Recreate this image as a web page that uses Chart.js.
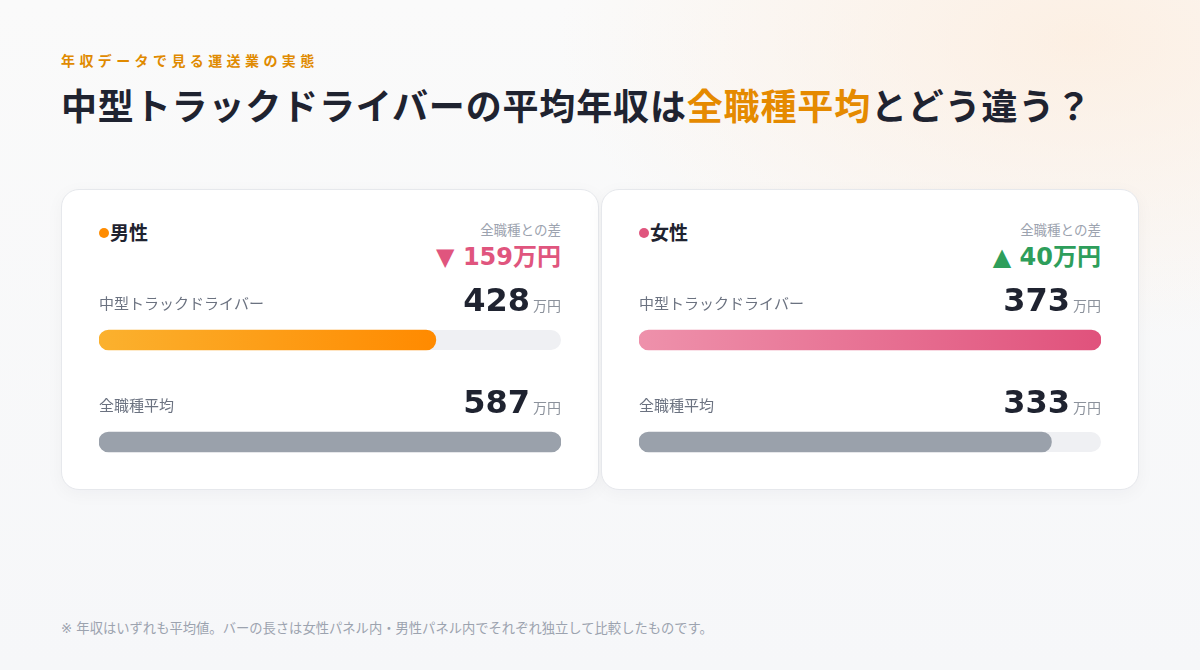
<!DOCTYPE html>
<html lang="ja">
<head>
  <meta charset="UTF-8">
  <title>中型トラックドライバーの平均年収</title>
  <script src="https://cdn.jsdelivr.net/npm/chart.js"></script>
  <style>
    html, body { margin: 0; padding: 0; }
    body {
      width: 1200px; height: 670px; position: relative; overflow: hidden;
      font-family: "DejaVu Sans", "Noto Sans CJK JP", sans-serif;
      background:
        radial-gradient(520px 300px at 1080px 40px, rgba(253, 236, 220, 0.75), rgba(253, 236, 220, 0) 100%),
        linear-gradient(#fafafa, #f6f7f9);
    }
    .kicker {
      position: absolute; left: 61px; top: 50px;
      font-size: 14px; font-weight: bold; color: #e08a00; letter-spacing: 4.4px;
    }
    .title {
      position: absolute; left: 61px; top: 78px;
      font-size: 36px; font-weight: bold; color: #1f2330; letter-spacing: 0.85px; white-space: nowrap;
    }
    .title span { color: #e58a00; }
    .card {
      position: absolute; top: 189px; width: 536px; height: 299px;
      background: #fff; border: 1px solid #e6e8ec; border-radius: 18px;
      box-shadow: 0 4px 18px rgba(15, 23, 42, 0.04);
    }
    .name {
      position: absolute; left: 37px; top: 28px;
      font-size: 19px; font-weight: bold; color: #1f2330;
    }
    .name i {
      display: inline-block; width: 10px; height: 10px; border-radius: 50%;
      vertical-align: 2px; margin-right: 1px;
    }
    .diffcap {
      position: absolute; right: 37px; top: 29px;
      font-size: 13.5px; color: #9ca3af;
    }
    .diff {
      position: absolute; right: 37px; top: 47px;
      font-size: 24px; font-weight: bold; white-space: nowrap;
    }
    .plot { position: absolute; left: 37px; top: 79px; width: 462px; height: 224px; }
    .note {
      position: absolute; left: 61px; top: 618px;
      font-size: 13.3px; color: #9ca3af; white-space: nowrap;
    }
  </style>
</head>
<body>
  <div class="kicker">年収データで見る運送業の実態</div>
  <div class="title">中型トラックドライバーの平均年収は<span>全職種平均</span>とどう違う？</div>

  <div class="card" style="left:61px">
    <div class="name"><i style="background:#ff8c00"></i>男性</div>
    <div class="diffcap">全職種との差</div>
    <div class="diff" id="diffMale"></div>
    <div class="plot"><canvas id="maleChart"></canvas></div>
  </div>

  <div class="card" style="left:601px">
    <div class="name"><i style="background:#e0557e"></i>女性</div>
    <div class="diffcap">全職種との差</div>
    <div class="diff" id="diffFemale"></div>
    <div class="plot"><canvas id="femaleChart"></canvas></div>
  </div>

  <div class="note">※ 年収はいずれも平均値。バーの長さは女性パネル内・男性パネル内でそれぞれ独立して比較したものです。</div>

  <script>
    // 年収（万円）
    const categories = ['中型トラックドライバー', '全職種平均'];
    const maleValues = [428, 587];
    const femaleValues = [373, 333];
    const unit = '万円';

    const fontStack = '"DejaVu Sans", "Noto Sans CJK JP", sans-serif';

    // difference vs 全職種平均
    function setDiff(id, values) {
      const d = values[0] - values[1];
      const el = document.getElementById(id);
      if (d < 0) {
        el.style.color = '#e0557e';
        el.textContent = '▼ ' + Math.abs(d) + unit;
      } else {
        el.style.color = '#2e9e5b';
        el.textContent = '▲ ' + d + unit;
      }
    }
    setDiff('diffMale', maleValues);
    setDiff('diffFemale', femaleValues);

    // grey track behind each bar
    const trackPlugin = {
      id: 'track',
      beforeDatasetsDraw(chart) {
        const { ctx, chartArea } = chart;
        const meta = chart.getDatasetMeta(0);
        ctx.save();
        ctx.fillStyle = '#eff0f3';
        meta.data.forEach(bar => {
          ctx.beginPath();
          ctx.roundRect(chartArea.left, bar.y - 10, chartArea.right - chartArea.left, 20, 10);
          ctx.fill();
        });
        ctx.restore();
      }
    };

    // category label and value above each bar
    const labelPlugin = {
      id: 'rowLabels',
      afterDatasetsDraw(chart) {
        const { ctx, chartArea } = chart;
        const meta = chart.getDatasetMeta(0);
        const vals = chart.data.datasets[0].data;
        ctx.save();
        meta.data.forEach((bar, i) => {
          ctx.textBaseline = 'middle';
          ctx.textAlign = 'left';
          ctx.fillStyle = '#6b7280';
          ctx.font = '15px ' + fontStack;
          ctx.fillText(chart.data.labels[i], chartArea.left, bar.y - 35);

          ctx.textBaseline = 'alphabetic';
          ctx.textAlign = 'right';
          ctx.font = '14px ' + fontStack;
          ctx.fillStyle = '#8b919b';
          const uw = ctx.measureText(unit).width;
          ctx.fillText(unit, chartArea.right, bar.y - 29);
          ctx.font = 'bold 32px ' + fontStack;
          ctx.fillStyle = '#1f2330';
          ctx.fillText(String(vals[i]), chartArea.right - uw - 3, bar.y - 29);
        });
        ctx.restore();
      }
    };

    function makeChart(id, values, c0, c1) {
      const max = Math.max(...values);
      return new Chart(document.getElementById(id), {
        type: 'bar',
        data: {
          labels: categories,
          datasets: [{
            data: values,
            backgroundColor(ctx) {
              if (ctx.dataIndex === 1) return '#9aa1ab';
              const area = ctx.chart.chartArea;
              if (!area) return c1;
              const end = ctx.chart.scales.x.getPixelForValue(values[0]);
              const g = ctx.chart.ctx.createLinearGradient(area.left, 0, end, 0);
              g.addColorStop(0, c0);
              g.addColorStop(1, c1);
              return g;
            },
            barThickness: 20,
            borderRadius: 10,
            borderSkipped: false
          }]
        },
        options: {
          indexAxis: 'y',
          responsive: true,
          maintainAspectRatio: false,
          animation: false,
          layout: { padding: { top: 20, left: 0, right: 0, bottom: 0 } },
          scales: {
            x: { display: false, min: 0, max: max },
            y: { display: false, offset: true }
          },
          plugins: {
            legend: { display: false },
            tooltip: { enabled: false }
          }
        },
        plugins: [trackPlugin, labelPlugin]
      });
    }

    makeChart('maleChart', maleValues, '#fbb12e', '#ff8a00');
    makeChart('femaleChart', femaleValues, '#ee91ab', '#e0527c');
  </script>
</body>
</html>
